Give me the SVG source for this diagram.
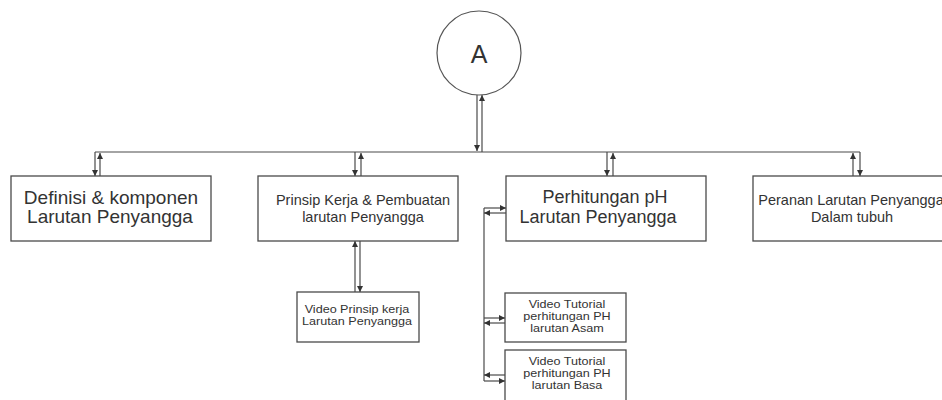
<svg xmlns="http://www.w3.org/2000/svg" width="942" height="400" viewBox="0 0 942 400">
<style>
.box{fill:#fff;stroke:#4a4a4a;stroke-width:1.3}
.ln{fill:none;stroke:#4a4a4a;stroke-width:1.2}
.ar{fill:none;stroke:#4a4a4a;stroke-width:1.2;marker-end:url(#ah)}
text{font-family:"Liberation Sans",Arial,sans-serif;fill:#333;text-anchor:middle}
.big{font-size:19px}
.med{font-size:14.5px}
.sm{font-size:10.5px}
</style>
<defs>
<marker id="ah" viewBox="0 0 10 10" refX="10" refY="5" markerWidth="7" markerHeight="6" markerUnits="userSpaceOnUse" orient="auto">
<path d="M0,0 L10,5 L0,10 Z" fill="#333"/>
</marker>
</defs>
<rect width="942" height="400" fill="#fff"/>
<g id="connectors">
<line class="ar" x1="477" y1="95" x2="477" y2="151"/>
<line class="ar" x1="482" y1="152" x2="482" y2="95"/>
<line class="ln" x1="95" y1="152" x2="860" y2="152"/>
<line class="ar" x1="95" y1="152" x2="95" y2="176"/>
<line class="ar" x1="100" y1="176" x2="100" y2="153"/>
<line class="ar" x1="355" y1="152" x2="355" y2="176"/>
<line class="ar" x1="361" y1="176" x2="361" y2="153"/>
<line class="ar" x1="607" y1="152" x2="607" y2="176"/>
<line class="ar" x1="613" y1="176" x2="613" y2="153"/>
<line class="ar" x1="853" y1="176" x2="853" y2="153"/>
<line class="ar" x1="860" y1="152" x2="860" y2="176"/>
<line class="ar" x1="355" y1="292" x2="355" y2="241"/>
<line class="ar" x1="360" y1="241" x2="360" y2="292"/>
<polyline class="ln" points="484,208 484,381"/>
<line class="ar" x1="484" y1="208" x2="506" y2="208"/>
<line class="ar" x1="506" y1="213" x2="484" y2="213"/>
<line class="ar" x1="484" y1="318" x2="505" y2="318"/>
<line class="ar" x1="505" y1="323" x2="484" y2="323"/>
<line class="ar" x1="505" y1="375" x2="484" y2="375"/>
<line class="ar" x1="484" y1="381" x2="505" y2="381"/>
</g>
<g id="nodeA">
<circle cx="479" cy="53" r="42" fill="#fff" stroke="#555" stroke-width="1.2"/>
<text x="479" y="63" style="font-size:25px">A</text>
</g>
<g id="definisi">
<rect class="box" x="11" y="176" width="200" height="65"/>
<text class="big" x="111" y="204">Definisi &amp; komponen</text>
<text class="big" x="110" y="223">Larutan Penyangga</text>
</g>
<g id="prinsip">
<rect class="box" x="258" y="176" width="200" height="65"/>
<text class="med" x="363" y="205">Prinsip Kerja &amp; Pembuatan</text>
<text class="med" x="363" y="222">larutan Penyangga</text>
</g>
<g id="perhitungan">
<rect class="box" x="506" y="176" width="200" height="65"/>
<text x="605" y="203" style="font-size:18px">Perhitungan pH</text>
<text x="598" y="223" style="font-size:18px">Larutan Penyangga</text>
</g>
<g id="peranan">
<rect class="box" x="753" y="176" width="200" height="65"/>
<text class="med" x="851" y="205">Peranan Larutan Penyangga</text>
<text class="med" x="852" y="222">Dalam tubuh</text>
</g>
<g id="videoPrinsip">
<rect class="box" x="297" y="292" width="122" height="50"/>
<g transform="translate(357,0) scale(1.2,1)">
<text class="sm" x="0" y="313">Video Prinsip kerja</text>
<text class="sm" x="0" y="325">Larutan Penyangga</text>
</g>
</g>
<g id="videoAsam">
<rect class="box" x="505" y="293" width="121" height="49"/>
<g transform="translate(567,0) scale(1.2,1)">
<text class="sm" x="0" y="308">Video Tutorial</text>
<text class="sm" x="0" y="320">perhitungan PH</text>
<text class="sm" x="0" y="332">larutan Asam</text>
</g>
</g>
<g id="videoBasa">
<rect class="box" x="505" y="350" width="121" height="52"/>
<g transform="translate(567,0) scale(1.2,1)">
<text class="sm" x="0" y="365">Video Tutorial</text>
<text class="sm" x="0" y="377">perhitungan PH</text>
<text class="sm" x="0" y="389">larutan Basa</text>
</g>
</g>
</svg>
